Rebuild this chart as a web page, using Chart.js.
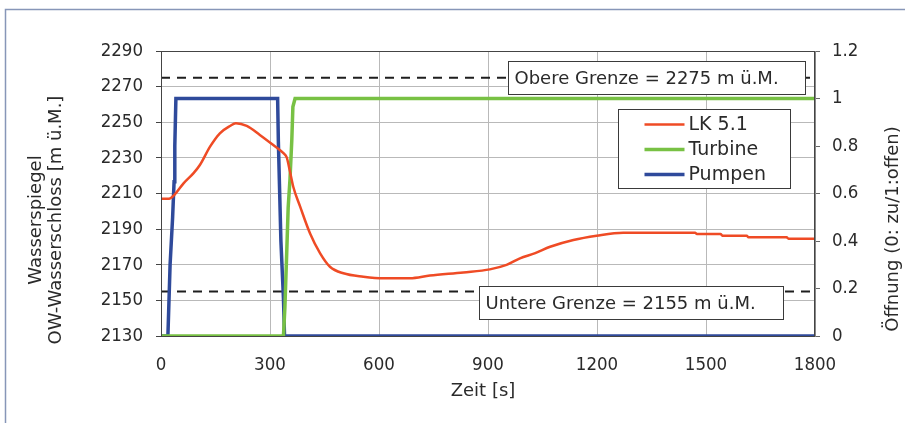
<!DOCTYPE html>
<html>
<head>
<meta charset="utf-8">
<script src="https://cdn.jsdelivr.net/npm/chart.js@4.4.1/dist/chart.umd.min.js"></script>
<style>
  html, body { margin: 0; padding: 0; background: #ffffff; overflow: hidden; }
  canvas { display: block; }
</style>
</head>
<body>
<canvas id="chart" width="905" height="423"></canvas>
<script>
// Wasserspiegel im Wasserschloss (m ü.M.) über der Zeit (s)
const timeLK  = [0, 22, 38, 62, 89, 107, 135, 162, 190, 206, 236, 272, 309, 337, 346, 355, 364, 383,
                 410, 438, 465, 502, 557, 612, 685, 740, 832, 905, 951, 988, 1030, 1071, 1135, 1199,
                 1272, 1470, 1475, 1540, 1545, 1612, 1617, 1722, 1727, 1800];
const levelLK = [2207, 2207, 2209.5, 2215.7, 2221.3, 2226, 2236.3, 2243.8, 2247.9, 2249.4, 2247.9,
                 2242.9, 2237.2, 2232.6, 2230.3, 2222.3, 2213.8, 2202.6, 2187.7, 2176.4, 2168.9,
                 2165.2, 2163.3, 2162.4, 2162.4, 2163.9, 2165.7, 2167.4, 2169.9, 2173.6, 2176.5,
                 2180.1, 2183.9, 2186.3, 2188, 2188, 2187.3, 2187.3, 2186.3, 2186.3, 2185.4, 2185.4,
                 2184.6, 2184.6];

// Öffnungsgrad Turbine (0: zu / 1: offen)
const timeTurbine = [0, 337, 341, 346, 350, 355, 360, 363, 369, 1800];
const openTurbine = [0, 0, 0.12, 0.35, 0.54, 0.66, 0.825, 0.965, 1, 1];

// Öffnungsgrad Pumpen (0: zu / 1: offen)
const timePumpen = [0, 19, 21, 25, 32, 36, 38, 41, 321, 323, 326, 330, 337, 340, 1800];
const openPumpen = [0, 0, 0.1, 0.3, 0.5, 0.65, 0.8, 1, 1, 0.82, 0.64, 0.4, 0.16, 0, 0];

// Grenzwerte des Wasserspiegels
const upperLimit = 2275;
const lowerLimit = 2155;

// Achsen und Tick-Beschriftungen
const timeRange  = [0, 1800];
const timeStep   = 300;
const timeTickLabels  = ['0', '300', '600', '900', '1200', '1500', '1800'];
const levelRange = [2130, 2290];
const levelStep  = 20;
const levelTickLabels = ['2130', '2150', '2170', '2190', '2210', '2230', '2250', '2270', '2290'];
const openRange  = [0, 1.2];
const openStep   = 0.2;
const openTickLabels  = ['0', '0.2', '0.4', '0.6', '0.8', '1', '1.2'];

const seriesNames  = ['LK 5.1', 'Turbine', 'Pumpen'];
const seriesColors = ['#ef4b25', '#78c144', '#2f4a9b'];

const textColor = '#2a2a2a';
const FONT = "'DejaVu Sans', Verdana, sans-serif";
const TICK_FONT = "'DejaVu Sans Condensed', 'DejaVu Sans', sans-serif";

const zip = (xs, ys) => xs.map((x, i) => ({ x, y: ys[i] }));

const overlay = {
  id: 'overlay',
  beforeDraw(chart) {
    const { ctx, width, height } = chart;
    ctx.save();
    ctx.fillStyle = '#ffffff';
    ctx.fillRect(0, 0, width, height);
    // äußerer Rahmen (links und oben)
    ctx.strokeStyle = '#8796b8';
    ctx.lineWidth = 1.5;
    ctx.beginPath();
    ctx.moveTo(5.5, height);
    ctx.lineTo(5.5, 9.5);
    ctx.lineTo(width, 9.5);
    ctx.stroke();
    ctx.restore();
  },
  afterDatasetsDraw(chart) {
    const { ctx, chartArea: a, scales } = chart;
    const xs = scales.x, ys = scales.y;
    ctx.save();
    // Rahmen der Zeichenfläche
    ctx.strokeStyle = '#444';
    ctx.lineWidth = 1;
    ctx.strokeRect(a.left + 0.5, a.top + 0.5, a.right - a.left - 1, a.bottom - a.top);

    // Beschriftungen der Grenzwerte
    const boxes = [
      { text: `Obere Grenze = ${upperLimit} m ü.M.`, value: upperLimit, from: 955, to: 1772, dy: 0 },
      { text: `Untere Grenze = ${lowerLimit} m ü.M.`, value: lowerLimit, from: 875, to: 1712, dy: 11 }
    ];
    ctx.font = `18px ${FONT}`;
    ctx.textBaseline = 'middle';
    ctx.textAlign = 'left';
    for (const b of boxes) {
      const cy = ys.getPixelForValue(b.value) + b.dy;
      const x0 = Math.round(xs.getPixelForValue(b.from)) + 0.5;
      const x1 = Math.round(xs.getPixelForValue(b.to)) + 0.5;
      const h = 33;
      const y0 = Math.round(cy - h / 2) + 0.5;
      ctx.fillStyle = '#ffffff';
      ctx.fillRect(x0, y0, x1 - x0, h);
      ctx.strokeStyle = '#3a3a3a';
      ctx.lineWidth = 1;
      ctx.strokeRect(x0, y0, x1 - x0, h);
      ctx.fillStyle = textColor;
      ctx.fillText(b.text, x0 + 6, y0 + h / 2 + 1);
    }

    // Legende
    const lx0 = a.right - 196.5, ly0 = a.top + 58.5, lw = 172, lh = 79;
    ctx.fillStyle = '#ffffff';
    ctx.fillRect(lx0, ly0, lw, lh);
    ctx.strokeStyle = '#3a3a3a';
    ctx.strokeRect(lx0, ly0, lw, lh);
    ctx.font = `19px ${FONT}`;
    chart.data.datasets.slice(0, 3).forEach((ds, i) => {
      const cy = ly0 + 15 + i * 25;
      ctx.strokeStyle = ds.borderColor;
      ctx.lineWidth = ds.borderWidth;
      ctx.beginPath();
      ctx.moveTo(lx0 + 26, cy);
      ctx.lineTo(lx0 + 66, cy);
      ctx.stroke();
      ctx.fillStyle = textColor;
      ctx.fillText(ds.label, lx0 + 70, cy + 1);
    });
    ctx.restore();
  },
  afterDraw(chart) {
    const { ctx, chartArea: a } = chart;
    ctx.save();
    ctx.fillStyle = textColor;
    ctx.textAlign = 'center';
    ctx.textBaseline = 'middle';
    ctx.font = `18px ${FONT}`;
    // x-Achse
    ctx.fillText('Zeit [s]', (a.left + a.right) / 2 - 5, 391);
    // linke Achse (zweizeilig)
    ctx.save();
    ctx.translate(36, 220);
    ctx.rotate(-Math.PI / 2);
    ctx.fillText('Wasserspiegel', 0, 0);
    ctx.fillText('OW-Wasserschloss [m ü.M.]', 0, 20);
    ctx.restore();
    // rechte Achse
    ctx.save();
    ctx.translate(893, 229);
    ctx.rotate(-Math.PI / 2);
    ctx.fillText('Öffnung (0: zu/1:offen)', 0, 0);
    ctx.restore();
    ctx.restore();
  }
};

new Chart(document.getElementById('chart'), {
  type: 'line',
  data: {
    datasets: [
      { label: seriesNames[0], data: zip(timeLK, levelLK), yAxisID: 'y',
        borderColor: seriesColors[0], borderWidth: 2.5, cubicInterpolationMode: 'monotone' },
      { label: seriesNames[1], data: zip(timeTurbine, openTurbine), yAxisID: 'y1',
        borderColor: seriesColors[1], borderWidth: 3.5, tension: 0 },
      { label: seriesNames[2], data: zip(timePumpen, openPumpen), yAxisID: 'y1',
        borderColor: seriesColors[2], borderWidth: 3.5, tension: 0 },
      { label: 'Obere Grenze', data: zip(timeRange, [upperLimit, upperLimit]), yAxisID: 'y',
        borderColor: '#1e1e1e', borderWidth: 2, borderDash: [9, 7] },
      { label: 'Untere Grenze', data: zip(timeRange, [lowerLimit, lowerLimit]), yAxisID: 'y',
        borderColor: '#1e1e1e', borderWidth: 2, borderDash: [9, 7] }
    ]
  },
  options: {
    responsive: false,
    animation: false,
    devicePixelRatio: 1,
    elements: { point: { radius: 0 }, line: { fill: false, borderCapStyle: 'butt' } },
    layout: { padding: { top: 51, left: 0, right: 0, bottom: 0 } },
    plugins: { legend: { display: false }, tooltip: { enabled: false }, title: { display: false } },
    scales: {
      x: {
        type: 'linear', min: timeRange[0], max: timeRange[1],
        ticks: { stepSize: timeStep, color: textColor, padding: 18, maxRotation: 0,
                 font: { family: TICK_FONT, size: 18.5 },
                 callback: (v, i) => timeTickLabels[i] },
        grid: { color: '#b9b9b9', lineWidth: 1, drawTicks: false },
        border: { display: true, color: '#444' },
        afterFit: s => { s.height = 87; }
      },
      y: {
        position: 'left', min: levelRange[0], max: levelRange[1],
        ticks: { stepSize: levelStep, color: textColor, padding: 13,
                 font: { family: TICK_FONT, size: 18.5 },
                 callback: (v, i) => levelTickLabels[i] },
        grid: { color: '#b9b9b9', lineWidth: 1, tickLength: 5, tickColor: '#444' },
        border: { display: true, color: '#333' },
        afterFit: s => { s.width = 161; }
      },
      y1: {
        position: 'right', min: openRange[0], max: openRange[1],
        ticks: { stepSize: openStep, color: textColor, padding: 12,
                 font: { family: TICK_FONT, size: 18.5 },
                 callback: (v, i) => openTickLabels[i] },
        grid: { drawOnChartArea: false, tickLength: 5, tickColor: '#666' },
        border: { display: true, color: '#888' },
        afterFit: s => { s.width = 90; }
      }
    }
  },
  plugins: [overlay]
});
</script>
</body>
</html>
